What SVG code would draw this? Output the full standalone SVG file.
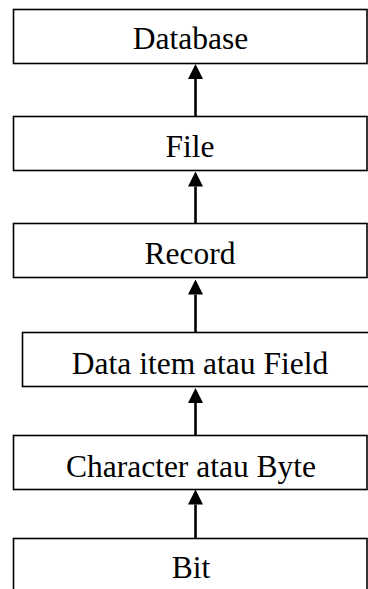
<svg xmlns="http://www.w3.org/2000/svg" width="368" height="589" viewBox="0 0 368 589">
<style>
.box{fill:#fff;stroke:#000;stroke-width:1.6}
.lbl{font-family:"Liberation Serif","Times New Roman",serif;font-size:31.5px;fill:#000;text-anchor:middle}
.con{stroke:#000;stroke-width:2.6;fill:none;marker-end:url(#ah)}
</style>
<defs>
<marker id="ah" viewBox="0 0 15 15" refX="0" refY="7.5" markerWidth="15" markerHeight="15" markerUnits="userSpaceOnUse" orient="auto">
<path d="M0,0 L15,7.5 L0,15 z" fill="#000"/>
</marker>
</defs>
<rect width="368" height="589" fill="#fff"/>
<g id="connectors">
<line class="con" x1="195.5" y1="116.5" x2="195.5" y2="79"/>
<line class="con" x1="195.5" y1="223.5" x2="195.5" y2="186.5"/>
<line class="con" x1="195.5" y1="332.5" x2="195.5" y2="294.5"/>
<line class="con" x1="195.5" y1="435.5" x2="195.5" y2="403"/>
<line class="con" x1="195.5" y1="538.5" x2="195.5" y2="504.5"/>
</g>
<g id="database"><rect class="box" x="13.5" y="9.5" width="353.5" height="54"/><text class="lbl" x="190.5" y="48.5">Database</text></g>
<g id="file"><rect class="box" x="13.5" y="116.5" width="353.5" height="54"/><text class="lbl" x="190" y="156.5">File</text></g>
<g id="record"><rect class="box" x="13.5" y="223.5" width="353.5" height="54"/><text class="lbl" x="190" y="263.5">Record</text></g>
<g id="field"><rect class="box" x="22.5" y="332.5" width="360" height="54"/><text class="lbl" x="200" y="373.5">Data item atau Field</text></g>
<g id="byte"><rect class="box" x="13.5" y="435.5" width="353.5" height="54"/><text class="lbl" x="191" y="476.5">Character atau Byte</text></g>
<g id="bit"><rect class="box" x="13.5" y="538.5" width="353.5" height="60"/><text class="lbl" x="191" y="578">Bit</text></g>
</svg>
